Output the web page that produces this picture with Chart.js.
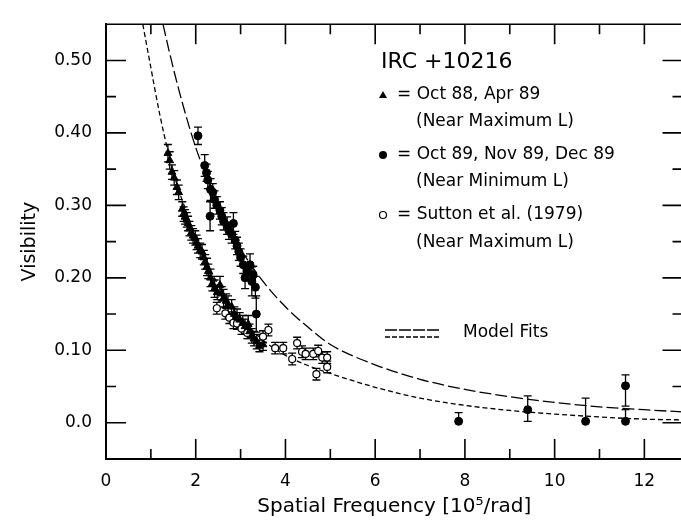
<!DOCTYPE html>
<html>
<head>
<meta charset="utf-8">
<script src="https://cdn.jsdelivr.net/npm/chart.js@4"></script>
<style>
html, body { margin: 0; padding: 0; background: #fff; overflow: hidden; }
</style>
</head>
<body>
<canvas id="visChart" width="688" height="527"></canvas>
<script>
// Oct 88, Apr 89 (triangles)
var triX = [1.38, 1.42, 1.47, 1.52, 1.58, 1.62, 1.70, 1.73, 1.76, 1.80, 1.83, 1.86, 1.90, 1.94, 1.99, 2.02, 2.05, 2.10, 2.14, 2.18, 2.21, 2.25, 2.28, 2.33, 2.37, 2.42, 2.48, 2.54, 2.58, 2.62, 2.68, 2.72, 2.80, 2.86, 2.92, 2.98, 3.05, 3.10, 3.17, 3.20, 3.25, 3.30, 3.36, 3.42, 3.50];
var triY = [0.372, 0.362, 0.346, 0.338, 0.325, 0.318, 0.295, 0.288, 0.284, 0.280, 0.275, 0.268, 0.262, 0.258, 0.255, 0.249, 0.244, 0.238, 0.236, 0.228, 0.222, 0.215, 0.209, 0.200, 0.192, 0.185, 0.180, 0.190, 0.178, 0.172, 0.168, 0.163, 0.160, 0.150, 0.145, 0.142, 0.138, 0.133, 0.136, 0.126, 0.120, 0.116, 0.112, 0.106, 0.108];
var triErr = [0.012, 0.012, 0.010, 0.010, 0.010, 0.010, 0.010, 0.010, 0.010, 0.010, 0.010, 0.010, 0.010, 0.010, 0.010, 0.010, 0.010, 0.010, 0.010, 0.010, 0.010, 0.012, 0.010, 0.012, 0.010, 0.012, 0.010, 0.012, 0.010, 0.012, 0.010, 0.012, 0.010, 0.010, 0.012, 0.010, 0.010, 0.010, 0.012, 0.010, 0.010, 0.010, 0.010, 0.008, 0.008];

// Oct 89, Nov 89, Dec 89 (filled circles)
var dotX = [2.05, 2.20, 2.24, 2.27, 2.33, 2.38, 2.42, 2.47, 2.32, 2.54, 2.58, 2.62, 2.70, 2.74, 2.80, 2.84, 2.88, 2.92, 2.96, 3.00, 3.06, 3.10, 3.15, 3.21, 3.25, 3.28, 3.33, 3.35];
var dotY = [0.396, 0.355, 0.345, 0.335, 0.322, 0.318, 0.308, 0.300, 0.285, 0.293, 0.285, 0.278, 0.272, 0.265, 0.260, 0.275, 0.252, 0.244, 0.236, 0.228, 0.218, 0.200, 0.209, 0.218, 0.195, 0.204, 0.187, 0.150];
var dotErr = [0.012, 0.015, 0.012, 0.012, 0.015, 0.012, 0.012, 0.012, 0.020, 0.012, 0.012, 0.012, 0.012, 0.012, 0.012, 0.015, 0.012, 0.012, 0.012, 0.012, 0.012, 0.015, 0.012, 0.015, 0.020, 0.012, 0.015, 0.025];

// same epoch, long baselines (error bar limits read separately)
var farX = [7.86, 9.40, 10.69, 11.58, 11.58];
var farY = [0.002, 0.018, 0.002, 0.051, 0.002];
var farLo = [0.002, 0.002, 0.002, 0.023, 0.002];
var farHi = [0.014, 0.037, 0.034, 0.066, 0.018];

// Sutton et al. (1979) (open circles)
var sutX = [2.47, 2.66, 2.75, 2.84, 2.92, 3.02, 3.15, 3.50, 3.62, 3.77, 3.95, 4.15, 4.26, 4.37, 4.45, 4.62, 4.69, 4.73, 4.82, 4.93, 4.93];
var sutY = [0.158, 0.151, 0.145, 0.138, 0.137, 0.130, 0.124, 0.119, 0.128, 0.103, 0.103, 0.088, 0.110, 0.098, 0.095, 0.095, 0.067, 0.099, 0.090, 0.090, 0.077];
var sutErr = 0.008;

// model fits
var fitMinX = [1.27, 1.4, 1.6, 1.8, 2.0, 2.25, 2.5, 2.75, 3.0, 3.5, 4.0, 4.5, 5.0, 6.0, 7.0, 8.0, 9.0, 10.0, 11.0, 12.0, 12.85];
var fitMinY = [0.55, 0.515, 0.465, 0.42, 0.38, 0.338, 0.30, 0.268, 0.24, 0.195, 0.160, 0.132, 0.108, 0.080, 0.060, 0.046, 0.036, 0.028, 0.022, 0.018, 0.015];
var fitMaxX = [0.82, 1.0, 1.2, 1.4, 1.6, 1.8, 2.0, 2.25, 2.5, 2.75, 3.0, 3.5, 4.0, 4.5, 5.0, 6.0, 7.0, 8.0, 9.0, 10.0, 11.0, 12.0, 12.85];
var fitMaxY = [0.55, 0.49, 0.425, 0.37, 0.325, 0.29, 0.257, 0.222, 0.19, 0.165, 0.145, 0.114, 0.093, 0.079, 0.068, 0.049, 0.034, 0.024, 0.017, 0.012, 0.008, 0.005, 0.004];

var xTicks = [0, 2, 4, 6, 8, 10, 12];
var xTickLabels = ['0', '2', '4', '6', '8', '10', '12'];
var yTicks = [0, 0.1, 0.2, 0.3, 0.4, 0.5];
var yTickLabels = ['0.0', '0.10', '0.20', '0.30', '0.40', '0.50'];

var FONT = "'DejaVu Sans', sans-serif";

function pts(xs, ys) {
    return xs.map((x, i) => ({ x: x, y: ys[i] }));
}

// vertical error bars with caps, drawn under the markers
const errorBars = {
    id: 'errorBars',
    beforeDatasetsDraw(chart) {
        const { ctx, scales: { x, y } } = chart;
        ctx.save();
        ctx.strokeStyle = '#000';
        ctx.lineWidth = 1.3;
        chart.data.datasets.forEach(ds => {
            if (!ds.errLow) return;
            ds.data.forEach((p, j) => {
                const px = x.getPixelForValue(p.x);
                const top = y.getPixelForValue(ds.errHigh[j]);
                const bot = y.getPixelForValue(ds.errLow[j]);
                ctx.beginPath();
                ctx.moveTo(px, top);
                ctx.lineTo(px, bot);
                ctx.moveTo(px - 4, top);
                ctx.lineTo(px + 4, top);
                if (ds.errLow[j] < p.y) {
                    ctx.moveTo(px - 4, bot);
                    ctx.lineTo(px + 4, bot);
                }
                ctx.stroke();
            });
        });
        ctx.restore();
    }
};

// inward ticks on all sides + top frame line
const frameTicks = {
    id: 'frameTicks',
    afterDraw(chart) {
        const { ctx, chartArea: a, scales: { x, y } } = chart;
        ctx.save();
        ctx.strokeStyle = '#000';
        ctx.lineWidth = 1.6;
        ctx.beginPath();
        ctx.moveTo(a.left, a.top);
        ctx.lineTo(a.right, a.top);
        for (let i = 1; i <= 12; i++) {
            const px = x.getPixelForValue(i);
            const len = i % 2 === 0 ? 20 : 10;
            ctx.moveTo(px, a.bottom);
            ctx.lineTo(px, a.bottom - len);
            ctx.moveTo(px, a.top);
            ctx.lineTo(px, a.top + len);
        }
        for (let i = 0; i <= 10; i++) {
            const py = y.getPixelForValue(i * 0.05);
            const len = i % 2 === 0 ? 20 : 10;
            ctx.moveTo(a.left, py);
            ctx.lineTo(a.left + len, py);
            ctx.moveTo(a.right, py);
            ctx.lineTo(a.right - len, py);
        }
        ctx.stroke();
        ctx.restore();
    }
};

// key in the upper right
const keyText = {
    id: 'keyText',
    afterDraw(chart) {
        const ctx = chart.ctx;
        ctx.save();
        ctx.fillStyle = '#000';
        ctx.strokeStyle = '#000';
        ctx.textBaseline = 'middle';
        ctx.textAlign = 'left';
        ctx.font = '22px ' + FONT;
        ctx.fillText('IRC +10216', 381, 62);
        ctx.font = '17px ' + FONT;
        const rows = [
            ['= Oct 88, Apr 89', 95], ['(Near Maximum L)', 122],
            ['= Oct 89, Nov 89, Dec 89', 155], ['(Near Minimum L)', 182],
            ['= Sutton et al. (1979)', 215], ['(Near Maximum L)', 243]
        ];
        rows.forEach(r => {
            const tx = r[0].charAt(0) === '=' ? 397 : 416;
            ctx.fillText(r[0], tx, r[1]);
        });
        // markers
        ctx.beginPath();
        ctx.moveTo(383, 91);
        ctx.lineTo(387, 98);
        ctx.lineTo(379, 98);
        ctx.closePath();
        ctx.fill();
        ctx.beginPath();
        ctx.arc(383, 155, 4, 0, Math.PI * 2);
        ctx.fill();
        ctx.lineWidth = 1.2;
        ctx.beginPath();
        ctx.arc(383, 215, 3.5, 0, Math.PI * 2);
        ctx.stroke();
        // model fit sample
        ctx.lineWidth = 1.3;
        ctx.setLineDash([12, 2]);
        ctx.beginPath();
        ctx.moveTo(385, 330);
        ctx.lineTo(439, 330);
        ctx.stroke();
        ctx.setLineDash([5, 2]);
        ctx.beginPath();
        ctx.moveTo(385, 337);
        ctx.lineTo(439, 337);
        ctx.stroke();
        ctx.setLineDash([]);
        ctx.fillText('Model Fits', 463, 333);
        ctx.restore();
    }
};

var ctx = document.getElementById('visChart').getContext('2d');

var visChart = new Chart(ctx, {
    type: 'scatter',
    data: {
        datasets: [{
            label: 'Oct 88, Apr 89',
            data: pts(triX, triY),
            errLow: triY.map((v, i) => v - triErr[i]),
            errHigh: triY.map((v, i) => v + triErr[i]),
            pointStyle: 'triangle',
            pointRadius: 4.5,
            backgroundColor: '#000',
            borderColor: '#000',
            borderWidth: 1
        },
        {
            label: 'Oct 89, Nov 89, Dec 89',
            data: pts(dotX, dotY),
            errLow: dotY.map((v, i) => v - dotErr[i]),
            errHigh: dotY.map((v, i) => v + dotErr[i]),
            pointRadius: 4,
            backgroundColor: '#000',
            borderColor: '#000',
            borderWidth: 1
        },
        {
            label: 'Oct 89, Nov 89, Dec 89 (long)',
            data: pts(farX, farY),
            errLow: farLo,
            errHigh: farHi,
            pointRadius: 4,
            backgroundColor: '#000',
            borderColor: '#000',
            borderWidth: 1
        },
        {
            label: 'Sutton et al. (1979)',
            data: pts(sutX, sutY),
            errLow: sutY.map(v => v - sutErr),
            errHigh: sutY.map(v => v + sutErr),
            pointRadius: 3.5,
            backgroundColor: '#fff',
            borderColor: '#000',
            borderWidth: 1.2
        },
        {
            type: 'line',
            label: 'Model fit (min)',
            data: pts(fitMinX, fitMinY),
            borderColor: '#000',
            borderWidth: 1.3,
            borderDash: [12, 4],
            pointRadius: 0,
            cubicInterpolationMode: 'monotone',
            fill: false
        },
        {
            type: 'line',
            label: 'Model fit (max)',
            data: pts(fitMaxX, fitMaxY),
            borderColor: '#000',
            borderWidth: 1.3,
            borderDash: [5, 3],
            pointRadius: 0,
            cubicInterpolationMode: 'monotone',
            fill: false
        }]
    },
    options: {
        responsive: false,
        animation: false,
        layout: { padding: { top: 7, right: 0, left: 0, bottom: 0 } },
        plugins: {
            legend: { display: false },
            tooltip: { enabled: false }
        },
        scales: {
            x: {
                type: 'linear',
                min: 0,
                max: 12.85,
                afterBuildTicks: s => { s.ticks = xTicks.map(v => ({ value: v })); },
                afterFit: s => { s.height = 68; },
                ticks: {
                    callback: v => xTickLabels[xTicks.indexOf(v)],
                    font: { family: FONT, size: 17 },
                    color: '#000',
                    padding: 12,
                    maxRotation: 0,
                    autoSkip: false
                },
                grid: { display: false, drawTicks: false },
                border: { display: true, color: '#000', width: 2 },
                title: {
                    display: true,
                    text: 'Spatial Frequency [10⁵/rad]',
                    font: { family: FONT, size: 20 },
                    color: '#000',
                    padding: { top: 0, bottom: 8 }
                }
            },
            y: {
                type: 'linear',
                min: -0.05,
                max: 0.55,
                afterBuildTicks: s => { s.ticks = yTicks.map(v => ({ value: v })); },
                afterFit: s => { s.width = 106; },
                ticks: {
                    callback: v => yTickLabels[yTicks.indexOf(v)],
                    font: { family: FONT, size: 17 },
                    color: '#000',
                    padding: 14
                },
                grid: { display: false, drawTicks: false },
                border: { display: true, color: '#000', width: 2 },
                title: {
                    display: true,
                    text: 'Visibility',
                    font: { family: FONT, size: 19 },
                    color: '#000',
                    padding: { top: 19, bottom: 0 }
                }
            }
        }
    },
    plugins: [errorBars, frameTicks, keyText]
});
</script>
</body>
</html>
